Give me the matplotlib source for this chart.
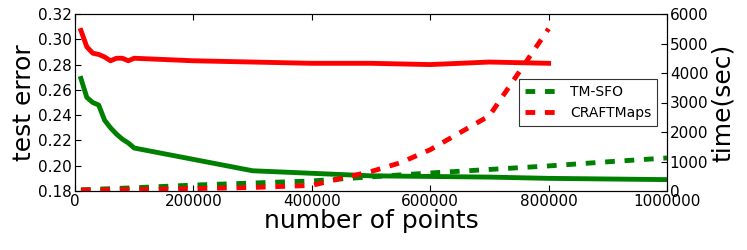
import matplotlib
matplotlib.use("Agg")
import matplotlib.pyplot as plt

# test error (left axis)
x_err = [10000, 20000, 30000, 40000, 50000, 60000, 70000, 80000, 90000, 100000,
         200000, 300000, 400000, 500000, 600000, 700000, 800000]
err_craft = [0.307, 0.294, 0.289, 0.288, 0.286, 0.283, 0.285, 0.285, 0.283, 0.285,
             0.283, 0.282, 0.281, 0.281, 0.280, 0.282, 0.281]
x_err_tm = [10000, 20000, 30000, 40000, 50000, 60000, 70000, 80000, 90000, 100000,
            200000, 300000, 400000, 500000, 600000, 700000, 800000, 900000, 1000000]
err_tm = [0.269, 0.254, 0.250, 0.248, 0.236, 0.230, 0.225, 0.221, 0.218, 0.214,
          0.205, 0.196, 0.194, 0.192, 0.1915, 0.191, 0.190, 0.1895, 0.189]

# time (right axis)
x_time_tm = [10000, 100000, 200000, 300000, 400000, 500000, 600000, 700000, 800000, 900000, 1000000]
time_tm = [40, 110, 200, 270, 340, 480, 610, 730, 850, 990, 1120]
x_time_craft = [10000, 100000, 200000, 300000, 400000, 450000, 500000, 550000, 600000, 700000, 800000]
time_craft = [30, 50, 80, 120, 190, 430, 660, 960, 1400, 2550, 5500]

xticks = [0, 200000, 400000, 600000, 800000, 1000000]
yticks_err = [0.18, 0.20, 0.22, 0.24, 0.26, 0.28, 0.30, 0.32]
yticks_time = [0, 1000, 2000, 3000, 4000, 5000, 6000]

fig = plt.figure(figsize=(7.47, 2.5), dpi=100)
ax = fig.add_axes([0.1004, 0.236, 0.7925, 0.708])
ax2 = ax.twinx()

lw = 3.5
ax.plot(x_err, err_craft, color='red', lw=lw)
ax.plot(x_err_tm, err_tm, color='green', lw=lw)
ax2.plot(x_time_tm, time_tm, color='green', lw=lw, ls='--', dashes=(2, 2), label='TM-SFO')
ax2.plot(x_time_craft, time_craft, color='red', lw=lw, ls='--', dashes=(2, 2), label='CRAFTMaps')

ax.set_xlim(0, 1000000)
ax.set_ylim(0.18, 0.32)
ax2.set_ylim(0, 6000)
ax.set_xticks(xticks)
ax.set_xticklabels([str(v) for v in xticks])
ax.set_yticks(yticks_err)
ax.set_yticklabels(["%.2f" % v for v in yticks_err])
ax2.set_yticks(yticks_time)
ax2.set_yticklabels([str(v) for v in yticks_time])

for a in (ax, ax2):
    a.tick_params(direction='in', labelsize=11, length=4, pad=2)
ax.tick_params(top=True)

ax.set_xlabel('number of points', fontsize=18, labelpad=0)
ax.set_ylabel('test error', fontsize=18, labelpad=2)
ax2.set_ylabel('time(sec)', fontsize=18, labelpad=2)

leg = ax2.legend(loc='center right', fontsize=10, fancybox=False, edgecolor='black',
                 handlelength=2.5, borderaxespad=0.7)
leg.get_frame().set_linewidth(0.8)

fig.savefig('out.png', dpi=100, facecolor='white')
